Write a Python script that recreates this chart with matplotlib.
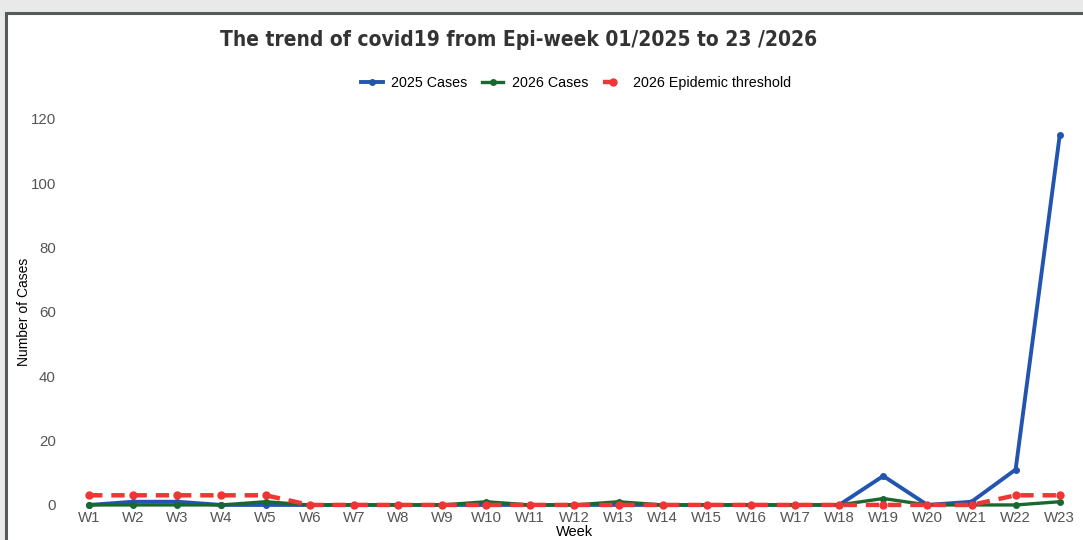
import matplotlib.pyplot as plt
from matplotlib.patches import Rectangle
from matplotlib.lines import Line2D

weeks = ['W%d' % i for i in range(1, 24)]
cases_2025 = [0, 1, 1, 0, 0, 0, 0, 0, 0, 0, 0, 0, 0, 0, 0, 0, 0, 0, 9, 0, 1, 11, 115]
cases_2026 = [0, 0, 0, 0, 1, 0, 0, 0, 0, 1, 0, 0, 1, 0, 0, 0, 0, 0, 2, 0, 0, 0, 1]
threshold_2026 = [3, 3, 3, 3, 3, 0, 0, 0, 0, 0, 0, 0, 0, 0, 0, 0, 0, 0, 0, 0, 0, 3, 3]

plt.rcParams['font.family'] = ['Liberation Sans', 'DejaVu Sans']

fig = plt.figure(figsize=(10.83, 5.4), dpi=100)
fig.patch.set_facecolor('#e8e9e8')
# white card with dark border (screenshot frame)
fig.patches.append(Rectangle((6 / 1083, -0.01), 1.02, (540 - 13) / 540 + 0.01,
                             transform=fig.transFigure, facecolor='white',
                             edgecolor='#555a5a', linewidth=2.2, zorder=-5))

ax = fig.add_axes([0.0619, 0.053, 0.937, 0.7386])
ax.patch.set_alpha(0)
x = list(range(len(weeks)))
ax.plot(x, cases_2025, color='#2355b0', lw=2.8, marker='o', ms=4, label='2025 Cases', zorder=3)
ax.plot(x, cases_2026, color='#19692e', lw=2.4, marker='o', ms=4, label='2026 Cases', zorder=4)
ax.plot(x, threshold_2026, color='#f03535', lw=3.2, ls=(0, (3, 2)), marker='o', ms=5,
        label='2026 Epidemic threshold', zorder=5)

ax.set_xlim(-0.5, 22.5)
ax.set_ylim(-2, 122)
ax.set_yticks([0, 20, 40, 60, 80, 100, 120])
ax.set_xticks(x)
ax.set_xticklabels(weeks)
ax.tick_params(axis='y', length=0, labelsize=10.8, colors='#555555', pad=8)
ax.tick_params(axis='x', length=0, labelsize=10.8, colors='#555555', pad=0)
for s in ax.spines.values():
    s.set_visible(False)
ax.set_ylabel('Number of Cases', fontsize=10, color='black', labelpad=0)
ax.set_xlabel('Week', fontsize=10.5, color='black', labelpad=0)

handles = [Line2D([], [], color='#2355b0', lw=2.8, marker='o', ms=4),
           Line2D([], [], color='#19692e', lw=2.4, marker='o', ms=4),
           Line2D([], [], color='#f03535', lw=3.2, ls=(0, (3, 2)), marker='o', ms=5)]
fig.legend(handles, ['2025 Cases', '2026 Cases', '2026 Epidemic threshold'],
           loc='center', bbox_to_anchor=(576 / 1083, 1 - 83 / 540), ncol=3,
           frameon=False, fontsize=10.3, handlelength=1.5, columnspacing=1.0,
           handletextpad=0.6)

fig.text(519 / 1083, 1 - 40 / 540, 'The trend of covid19 from Epi-week 01/2025 to 23 /2026',
         ha='center', va='center', fontsize=15, fontweight='bold', color='#333333',
         family='DejaVu Sans', fontstretch='condensed')

fig.savefig('out.png', dpi=100, facecolor=fig.get_facecolor())
